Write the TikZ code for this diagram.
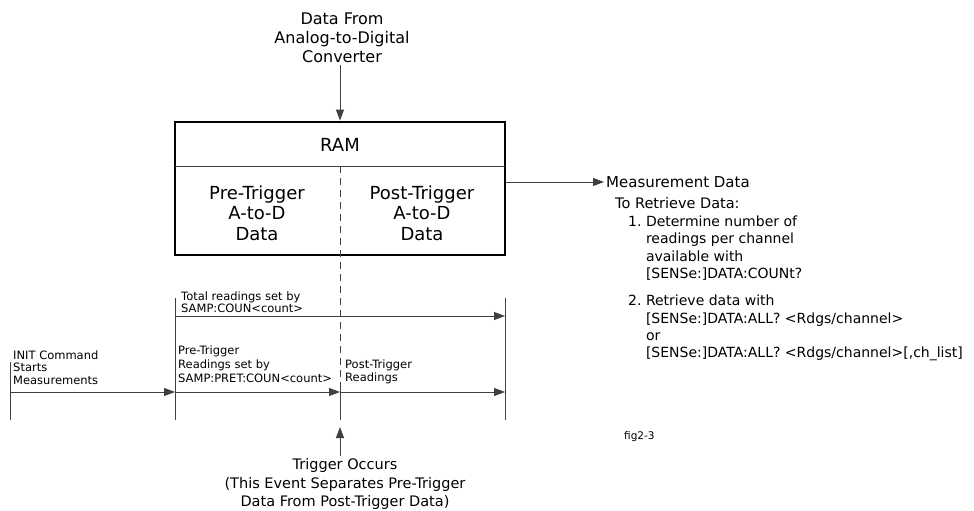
\documentclass[tikz,border=0pt]{standalone}
\usepackage{fontspec}
\setmainfont{DejaVu Sans}
\usetikzlibrary{arrows.meta,positioning}
\newcommand{\stepindent}{\hspace*{1.272em}}
\tikzset{
    line color/.style={black!75},
    box style/.style={draw,line width=2.8pt},
    tick/.style={line color,line width=0.8pt},
    trigger line/.style={line color,line width=0.8pt,dash pattern=on 7pt off 5pt},
    arr/.style={-{Triangle[length=11pt,width=8pt,fill=black!75]},line color,line width=0.8pt},
    big text/.style={font=\fontsize{18}{20.5}\selectfont,align=center,inner sep=0pt},
    note text/.style={font=\fontsize{16}{19}\selectfont,align=center,inner sep=2pt},
    time text/.style={font=\fontsize{11.5}{12.5}\selectfont,align=left,inner sep=0pt,anchor=west},
    list text/.style={font=\fontsize{14}{17.3}\selectfont,align=left,inner sep=0pt,anchor=west},
}

\begin{document}
\begin{tikzpicture}[x=1pt,y=-1pt]
    \useasboundingbox (0,0) rectangle (974,511);
    % RAM block
    \node[box style,minimum width=330pt,minimum height=133pt,inner sep=0pt] (ram) at (340,188.5) {};
    \coordinate (divl) at (175,166);
    \coordinate (divr) at (505,166);
    \draw[tick] (divl) -- (divr);
    \node[big text] (ramlbl) at (340,145) {RAM};
    \node[big text] (prelbl) at (257,213) {Pre-Trigger\\A-to-D\\Data};
    \node[big text] (postlbl) at (422,213) {Post-Trigger\\A-to-D\\Data};
    \node[note text] (src) at (342,38) {Data From\\Analog-to-Digital\\Converter};
    \draw[arr] (src.south -| ram.north) -- (ram.north);

    % time line
    \coordinate (split) at (340,166);
    \coordinate (init-t) at (10,362);   \coordinate (init) at (10,392);  \coordinate (init-b) at (10,420);
    \coordinate (pre-t) at (175,298);   \coordinate (pre) at (175,392);  \coordinate (pre-b) at (175,420);
    \coordinate (trig-t) at (340,382);  \coordinate (trig) at (340,392); \coordinate (trig-b) at (340,420);
    \coordinate (post-t) at (505,298);  \coordinate (post) at (505,392); \coordinate (post-b) at (505,420);
    \coordinate (tot-a) at (175,316);   \coordinate (tot-b) at (505,316);
    \draw[trigger line] (split) -- (trig-t);
    \foreach \a in {init,pre,trig,post}
        \draw[tick] (\a-t) -- (\a-b);
    \draw[arr] (tot-a) -- (tot-b);
    \draw[arr] (init) -- (pre);
    \draw[arr] (pre) -- (trig);
    \draw[arr] (trig) -- (post);
    \node[time text] (totlbl) at (181,302) {Total readings set by\\SAMP:COUN<count>};
    \node[time text] (initlbl) at (13,367.5) {INIT Command\\Starts\\Measurements};
    \node[time text,font=\fontsize{11.5}{14}\selectfont] (prerd) at (178,364) {Pre-Trigger\\Readings set by\\SAMP:PRET:COUN<count>};
    \node[time text,font=\fontsize{11.5}{13}\selectfont] (postrd) at (345,371.5) {Post-Trigger\\Readings};

    % trigger
    \coordinate (trig-tip) at (340,427);
    \node[font=\fontsize{14.5}{18.5}\selectfont,align=center,inner sep=2pt] (trignote) at (345,484) {Trigger Occurs\\(This Event Separates Pre-Trigger\\Data From Post-Trigger Data)};
    \draw[arr] (trignote.north -| trig-tip) -- (trig-tip);

    % read out
    \node[font=\fontsize{15}{18}\selectfont,anchor=west,inner sep=2pt] (meas) at (604,182) {Measurement Data};
    \draw[arr] (ram.east |- meas.west) -- (meas.west);
    \node[list text,font=\fontsize{14.5}{17}\selectfont] (retr) at (615,203) {To Retrieve Data:};
    \node[list text] (step1) at (628,248) {1.\ Determine number of\\\stepindent readings per channel\\\stepindent available with\\\stepindent[SENSe:]DATA:COUNt?};
    \node[list text] (step2) at (628,328) {2.\ Retrieve data with\\\stepindent[SENSe:]DATA:ALL? <Rdgs/channel>\\\stepindent or\\\stepindent[SENSe:]DATA:ALL? <Rdgs/channel>[,ch\_list]};
    \node[font=\fontsize{10.5}{12}\selectfont,anchor=west,inner sep=0pt] (figno) at (624,437) {fig2-3};
\end{tikzpicture}
\end{document}
